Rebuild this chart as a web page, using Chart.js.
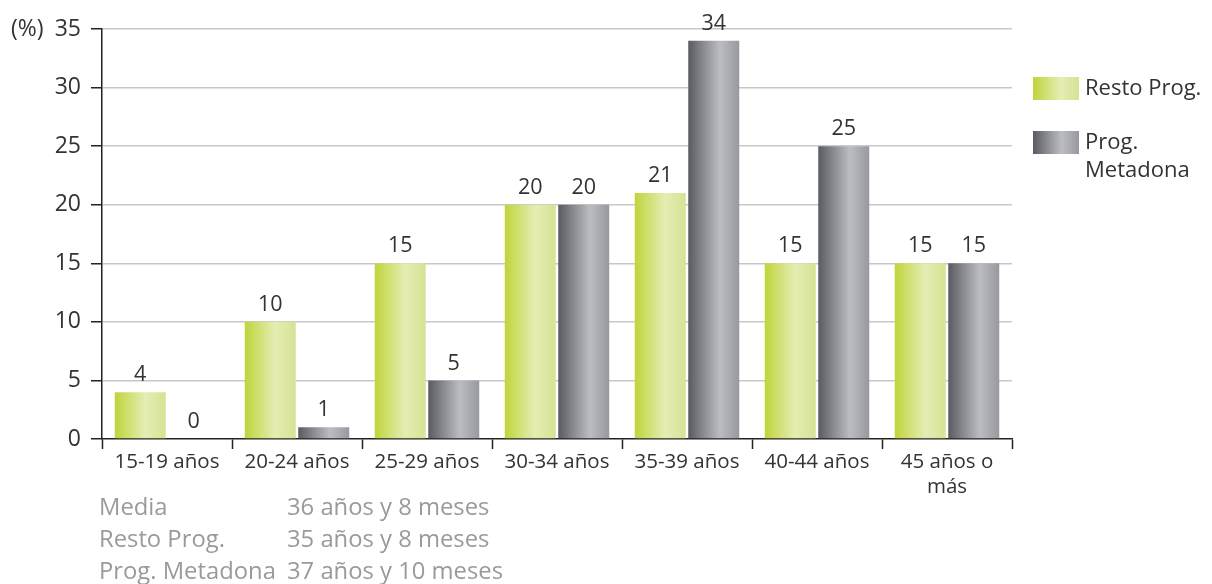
<!DOCTYPE html>
<html>
<head>
<meta charset="utf-8">
<script src="https://cdn.jsdelivr.net/npm/chart.js@4"></script>
<style>
  body { margin: 0; background: #fff; }
  #wrap { width: 1212px; height: 584px; position: relative; }
</style>
</head>
<body>
<div id="wrap"><canvas id="edadChart"></canvas></div>
<script>
// grupos de edad y porcentajes por programa
const grupos = ['15-19 años', '20-24 años', '25-29 años', '30-34 años', '35-39 años', '40-44 años', ['45 años o', 'más']];
const restoProg = [4, 10, 15, 20, 21, 15, 15];
const metadona = [0, 1, 5, 20, 34, 25, 15];
const yTicks = [0, 5, 10, 15, 20, 25, 30, 35];
const series = ['Resto Prog.', ['Prog.', 'Metadona']];
const resumen = [
  ['Media', '36 años y 8 meses'],
  ['Resto Prog.', '35 años y 8 meses'],
  ['Prog. Metadona', '37 años y 10 meses']
];

const FONT = "'Open Sans', 'Noto Sans', sans-serif";
const greenStops = [[0, '#c0d43a'], [0.6, '#e5edb4'], [1, '#d6e293']];
const grayStops = [[0, '#5a5b60'], [0.3, '#8a8b90'], [0.62, '#bcbdc2'], [1, '#98999e']];

function hGrad(ctx, x0, x1, stops) {
  const g = ctx.createLinearGradient(x0, 0, x1, 0);
  stops.forEach(s => g.addColorStop(s[0], s[1]));
  return g;
}

// degradado horizontal en cada barra (opciones scriptable => no compartidas)
const barGradients = {
  id: 'barGradients',
  afterDatasetsUpdate(chart) {
    const ctx = chart.ctx;
    chart.data.datasets.forEach((ds, i) => {
      const stops = i === 0 ? greenStops : grayStops;
      chart.getDatasetMeta(i).data.forEach(bar => {
        const x0 = bar.x - bar.width / 2;
        bar.options.backgroundColor = hGrad(ctx, x0, x0 + bar.width, stops);
      });
    });
  }
};

// valores encima de las barras, leyenda, unidad y resumen
const extras = {
  id: 'extras',
  afterDraw(chart) {
    const ctx = chart.ctx;
    ctx.save();
    ctx.font = '21.5px ' + FONT;
    ctx.fillStyle = '#333';
    ctx.textAlign = 'center';
    ctx.textBaseline = 'middle';
    chart.data.datasets.forEach((ds, i) => {
      chart.getDatasetMeta(i).data.forEach((bar, j) => {
        ctx.fillText(String(ds.data[j]), bar.x, bar.y - 17);
      });
    });

    // unidad del eje
    ctx.font = '23px ' + FONT;
    ctx.textAlign = 'left';
    ctx.fillText('(%)', 11, chart.scales.y.getPixelForValue(35));

    // leyenda
    ctx.font = '22px ' + FONT;
    const lx = 1033, lw = 46, lh = 23;
    const ly = [77, 131];
    [greenStops, grayStops].forEach((stops, i) => {
      ctx.fillStyle = hGrad(ctx, lx, lx + lw, stops);
      ctx.fillRect(lx, ly[i], lw, lh);
      ctx.fillStyle = '#333';
      const lines = [].concat(series[i]);
      lines.forEach((t, k) => ctx.fillText(t, 1085, ly[i] + lh / 2 + k * 28));
    });

    // resumen de edades
    ctx.font = '23.8px ' + FONT;
    ctx.fillStyle = '#9a9a9a';
    resumen.forEach((r, k) => {
      const y = 508 + k * 32;
      ctx.fillText(r[0], 99, y);
      ctx.fillText(r[1], 287, y);
    });
    ctx.restore();
  }
};

new Chart(document.getElementById('edadChart').getContext('2d'), {
  type: 'bar',
  data: {
    labels: grupos,
    datasets: [
      { label: 'Resto Prog.', data: restoProg, backgroundColor: () => '#d6e38f' },
      { label: 'Prog. Metadona', data: metadona, backgroundColor: () => '#96979c' }
    ]
  },
  options: {
    responsive: true,
    maintainAspectRatio: false,
    animation: false,
    layout: { padding: { left: 0, top: 29, right: 200, bottom: 85 } },
    categoryPercentage: 0.823,
    barPercentage: 0.953,
    plugins: {
      legend: { display: false },
      tooltip: { enabled: false }
    },
    scales: {
      x: {
        grid: {
          offset: true,
          drawOnChartArea: false,
          drawTicks: true,
          tickLength: 10,
          tickColor: '#222',
          tickWidth: 1.5
        },
        border: { color: '#222', width: 1.5 },
        ticks: { color: '#333', font: { size: 20.5, family: FONT }, padding: 1, maxRotation: 0 },
        afterFit(scale) { scale.height = 60; }
      },
      y: {
        min: 0,
        max: 35,
        afterBuildTicks(scale) { scale.ticks = yTicks.map(v => ({ value: v })); },
        grid: {
          color: ctx => ctx.tick && ctx.tick.value === 0 ? 'rgba(0,0,0,0)' : '#c8c8c8',
          lineWidth: 1.5,
          drawTicks: true,
          tickLength: 11,
          tickColor: '#222'
        },
        border: { color: '#222', width: 1.5 },
        ticks: { color: '#333', font: { size: 23, family: FONT }, padding: 10 },
        afterFit(scale) { scale.width = 102; }
      }
    }
  },
  plugins: [barGradients, extras]
});
</script>
</body>
</html>
